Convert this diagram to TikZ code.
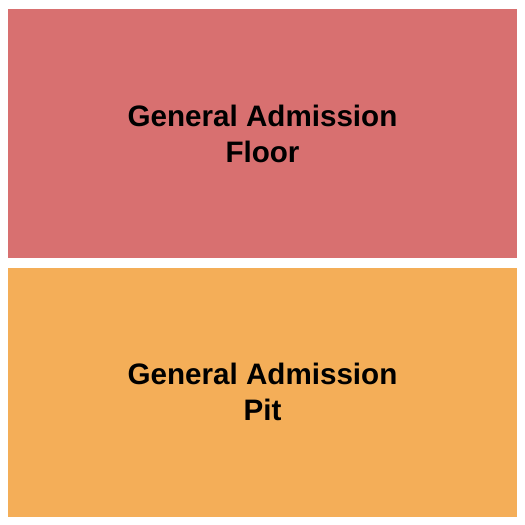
\documentclass[tikz,border=0pt]{standalone}
\usepackage{fontspec}
\setmainfont{Liberation Sans}
\definecolor{floorred}{RGB}{216,112,112}
\definecolor{pitorange}{RGB}{244,174,88}
\tikzset{
	section/.style={draw=none, minimum width=509pt, minimum height=249pt, inner sep=0pt, align=center,
		font=\fontsize{29.6}{36}\selectfont\bfseries}
}

\begin{document}
\begin{tikzpicture}[x=1pt,y=-1pt]
		\useasboundingbox[fill=white] (0,0) rectangle (525,525);
		\node[section, fill=floorred] (floor) at (262.5,133.5) {General Admission\\Floor};
		\node[section, fill=pitorange] (pit) at (262.5,392) {General Admission\\Pit};
	\end{tikzpicture}
\end{document}
